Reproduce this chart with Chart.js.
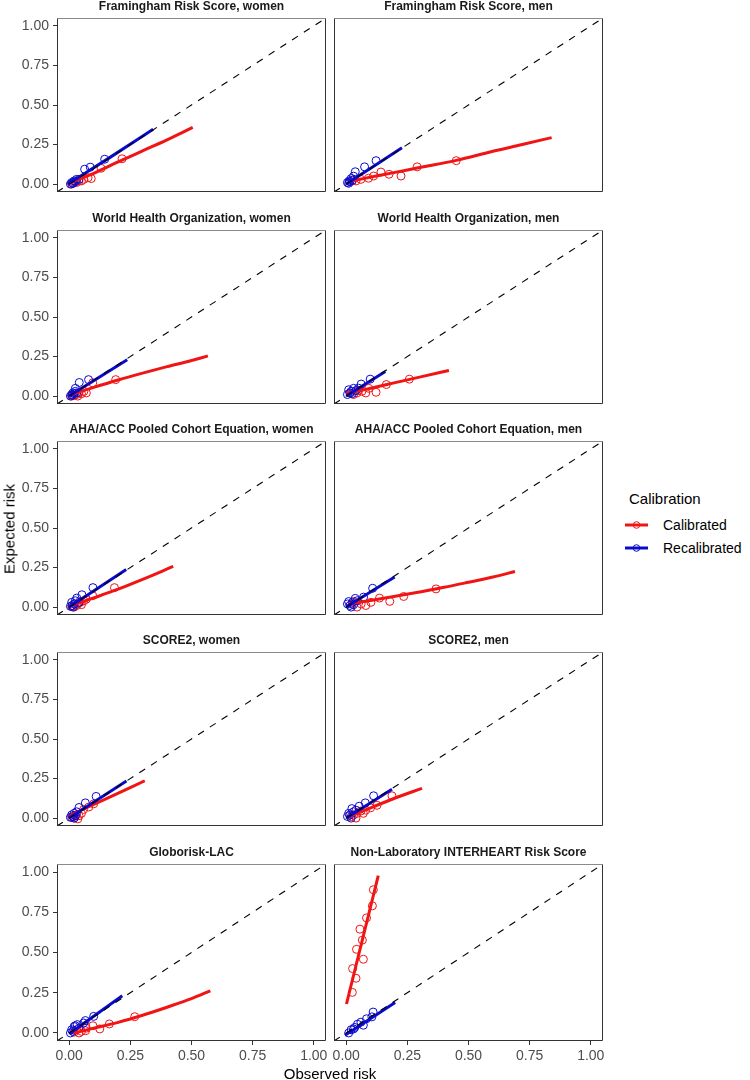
<!DOCTYPE html>
<html>
<head>
<meta charset="utf-8">
<script src="https://cdn.jsdelivr.net/npm/chart.js@4.4.1/dist/chart.umd.min.js"></script>
<style>
  body { margin: 0; background: #fff; width: 750px; height: 1080px; overflow: hidden; font-family: "Liberation Sans", Arial, sans-serif; }
  #wrap { position: relative; width: 750px; height: 1080px; }
  canvas { position: absolute; }
  .axis-title { position: absolute; font-size: 15px; color: #000; white-space: nowrap; }
  .leg { position: absolute; white-space: nowrap; color: #000; }
</style>
</head>
<body>
<div id="wrap"></div>
<script>
// facet titles, in reading order (row by row, left then right)
var panelTitles = [
  "Framingham Risk Score, women", "Framingham Risk Score, men",
  "World Health Organization, women", "World Health Organization, men",
  "AHA/ACC Pooled Cohort Equation, women", "AHA/ACC Pooled Cohort Equation, men",
  "SCORE2, women", "SCORE2, men",
  "Globorisk-LAC", "Non-Laboratory INTERHEART Risk Score"
];
var seriesNames = ["Calibrated", "Recalibrated"];
var tickVals = [0, 0.25, 0.5, 0.75, 1];
var identityLine = [[-0.05, -0.05], [1.05, 1.05]];

// [observed, expected] pairs
// Framingham women
var frsWCalPts = [[0.01,0.0],[0.02,0.01],[0.03,0.01],[0.04,0.02],[0.05,0.02],[0.06,0.03],[0.077,0.04],[0.09,0.035],[0.13,0.10],[0.216,0.16]];
var frsWCalFit = [[0.0,0.006],[0.1,0.068],[0.2,0.14],[0.3,0.21],[0.4,0.28],[0.505,0.358]];
var frsWRecPts = [[0.005,0.0],[0.01,0.01],[0.015,0.005],[0.02,0.02],[0.025,0.015],[0.03,0.03],[0.04,0.03],[0.063,0.094],[0.086,0.107],[0.145,0.157]];
var frsWRecFit = [[-0.005,0.0],[0.17,0.172],[0.343,0.346]];
// Framingham men
var frsMCalPts = [[0.025,0.02],[0.04,0.02],[0.06,0.03],[0.091,0.037],[0.112,0.051],[0.142,0.076],[0.175,0.062],[0.224,0.051],[0.29,0.109],[0.45,0.148]];
var frsMCalFit = [[0.02,0.02],[0.1,0.044],[0.2,0.074],[0.3,0.105],[0.45,0.15],[0.6,0.208],[0.72,0.25],[0.84,0.294]];
var frsMRecPts = [[0.005,0.01],[0.01,0.005],[0.012,0.02],[0.015,0.015],[0.02,0.035],[0.025,0.025],[0.03,0.05],[0.037,0.078],[0.075,0.109],[0.122,0.148]];
var frsMRecFit = [[0.0,0.0],[0.228,0.23]];
// WHO women
var whoWCalPts = [[0.01,0.0],[0.02,0.005],[0.03,0.01],[0.035,0.0],[0.04,0.02],[0.05,0.015],[0.06,0.03],[0.07,0.02],[0.096,0.084],[0.19,0.104]];
var whoWCalFit = [[0.0,0.005],[0.1,0.055],[0.2,0.102],[0.3,0.145],[0.4,0.186],[0.5,0.225],[0.567,0.254]];
var whoWRecPts = [[0.005,0.0],[0.01,0.01],[0.012,0.005],[0.015,0.02],[0.02,0.015],[0.025,0.03],[0.025,0.049],[0.041,0.086],[0.079,0.104],[0.03,0.02]];
var whoWRecFit = [[0.0,0.0],[0.237,0.23]];
// WHO men
var whoMCalPts = [[0.017,0.02],[0.03,0.01],[0.044,0.02],[0.064,0.03],[0.08,0.02],[0.092,0.049],[0.122,0.024],[0.164,0.073],[0.258,0.107],[0.05,0.035]];
var whoMCalFit = [[0.0,0.018],[0.1,0.05],[0.2,0.085],[0.3,0.12],[0.42,0.162]];
var whoMRecPts = [[0.005,0.01],[0.01,0.04],[0.015,0.02],[0.02,0.03],[0.025,0.015],[0.03,0.049],[0.04,0.035],[0.061,0.076],[0.098,0.107],[0.05,0.05]];
var whoMRecFit = [[0.0,0.0],[0.16,0.156]];
// AHA/ACC women
var ahaWCalPts = [[0.01,0.005],[0.02,0.0],[0.03,0.01],[0.035,0.02],[0.045,0.03],[0.05,0.015],[0.06,0.04],[0.096,0.072],[0.185,0.123],[0.07,0.05]];
var ahaWCalFit = [[0.0,0.005],[0.1,0.058],[0.2,0.113],[0.3,0.175],[0.425,0.257]];
var ahaWRecPts = [[0.005,0.005],[0.01,0.03],[0.012,0.01],[0.02,0.02],[0.025,0.04],[0.031,0.057],[0.04,0.03],[0.052,0.078],[0.097,0.123],[0.015,0.0]];
var ahaWRecFit = [[0.0,0.0],[0.233,0.238]];
// AHA/ACC men
var ahaMCalPts = [[0.025,0.02],[0.044,0.0],[0.061,0.02],[0.08,0.01],[0.101,0.03],[0.136,0.057],[0.178,0.036],[0.235,0.067],[0.367,0.115],[0.03,0.035]];
var ahaMCalFit = [[0.01,0.02],[0.1,0.042],[0.2,0.068],[0.3,0.096],[0.4,0.125],[0.5,0.157],[0.6,0.19],[0.69,0.225]];
var ahaMRecPts = [[0.005,0.02],[0.01,0.035],[0.015,0.01],[0.02,0.0],[0.025,0.03],[0.037,0.055],[0.045,0.04],[0.071,0.063],[0.108,0.119],[0.03,0.015]];
var ahaMRecFit = [[0.0,0.0],[0.198,0.19]];
// SCORE2 women
var sc2WCalPts = [[0.01,0.005],[0.02,0.0],[0.018,0.01],[0.03,0.02],[0.04,0.015],[0.05,0.03],[0.059,0.055],[0.08,0.07],[0.1,0.09],[0.035,-0.005]];
var sc2WCalFit = [[0.004,0.018],[0.15,0.122],[0.309,0.236]];
var sc2WRecPts = [[0.005,0.005],[0.01,0.02],[0.015,0.01],[0.02,0.03],[0.025,0.015],[0.03,0.04],[0.04,0.067],[0.066,0.096],[0.11,0.137],[0.02,0.0]];
var sc2WRecFit = [[0.0,0.0],[0.234,0.234]];
// SCORE2 men
var sc2MCalPts = [[0.02,0.01],[0.03,0.02],[0.044,0.03],[0.06,0.045],[0.07,0.03],[0.1,0.065],[0.126,0.081],[0.187,0.141],[0.04,0.0],[0.08,0.05]];
var sc2MCalFit = [[0.0,0.003],[0.1,0.065],[0.2,0.127],[0.31,0.188]];
var sc2MRecPts = [[0.005,0.01],[0.01,0.03],[0.015,0.02],[0.023,0.06],[0.03,0.04],[0.04,0.05],[0.053,0.075],[0.078,0.096],[0.112,0.141],[0.02,0.0]];
var sc2MRecFit = [[0.0,0.0],[0.187,0.182]];
// Globorisk-LAC
var gloCalPts = [[0.02,0.005],[0.04,0.0],[0.05,0.01],[0.067,0.014],[0.07,0.03],[0.097,0.045],[0.125,0.025],[0.164,0.056],[0.268,0.101],[0.03,0.02]];
var gloCalFit = [[0.02,0.0],[0.1,0.03],[0.2,0.066],[0.3,0.11],[0.4,0.16],[0.5,0.213],[0.577,0.262]];
var gloRecPts = [[0.005,0.0],[0.01,0.02],[0.015,0.01],[0.02,0.04],[0.033,0.052],[0.04,0.03],[0.059,0.062],[0.066,0.077],[0.1,0.103],[0.025,0.045]];
var gloRecFit = [[0.0,-0.005],[0.217,0.231]];
// Non-Laboratory INTERHEART
var ihCalPts = [[0.025,0.252],[0.04,0.34],[0.026,0.40],[0.07,0.458],[0.042,0.52],[0.066,0.577],[0.056,0.645],[0.083,0.715],[0.107,0.79],[0.111,0.89]];
var ihCalFit = [[0.001,0.18],[0.131,0.978]];
var ihRecPts = [[0.01,0.0],[0.02,0.02],[0.03,0.025],[0.035,0.034],[0.046,0.054],[0.06,0.067],[0.07,0.048],[0.083,0.088],[0.105,0.10],[0.11,0.13]];
var ihRecFit = [[-0.005,-0.015],[0.2,0.19]];

var panelSeries = [
  [frsWCalPts, frsWCalFit, frsWRecPts, frsWRecFit],
  [frsMCalPts, frsMCalFit, frsMRecPts, frsMRecFit],
  [whoWCalPts, whoWCalFit, whoWRecPts, whoWRecFit],
  [whoMCalPts, whoMCalFit, whoMRecPts, whoMRecFit],
  [ahaWCalPts, ahaWCalFit, ahaWRecPts, ahaWRecFit],
  [ahaMCalPts, ahaMCalFit, ahaMRecPts, ahaMRecFit],
  [sc2WCalPts, sc2WCalFit, sc2WRecPts, sc2WRecFit],
  [sc2MCalPts, sc2MCalFit, sc2MRecPts, sc2MRecFit],
  [gloCalPts, gloCalFit, gloRecPts, gloRecFit],
  [ihCalPts, ihCalFit, ihRecPts, ihRecFit]
];

var RED = "#f01414";
var BLUE = "#0a0acd";
var seriesColors = [RED, BLUE];

Chart.defaults.font.family = "'Liberation Sans', Arial, sans-serif";

// panel geometry (px)
var colLeft = [57, 334];
var rowTop = [18, 230, 441, 652, 864];
var panelW = 269, panelH = 177;
var titleH = 19;

function xy(pairs) {
  return pairs.map(function (p) { return { x: p[0], y: p[1] }; });
}

// panel frame like ggplot's panel.border
var panelBox = {
  id: 'panelBox',
  afterDraw: function (chart) {
    var a = chart.chartArea, ctx = chart.ctx;
    var l = Math.round(a.left) + 0.5, t = Math.round(a.top) + 0.5;
    var r = Math.round(a.right) - 0.5, b = Math.round(a.bottom) - 0.5;
    ctx.save();
    ctx.lineWidth = 1;
    ctx.strokeStyle = '#8a8a8a';
    ctx.beginPath(); ctx.moveTo(l, t); ctx.lineTo(r, t); ctx.stroke();
    ctx.strokeStyle = '#333333';
    ctx.beginPath(); ctx.moveTo(r, t); ctx.lineTo(r, b); ctx.lineTo(l, b); ctx.lineTo(l, t); ctx.stroke();
    ctx.restore();
  }
};

var wrap = document.getElementById('wrap');

panelTitles.forEach(function (title, i) {
  var col = i % 2, row = Math.floor(i / 2);
  var isLeft = col === 0, isBottom = row === rowTop.length - 1;
  var padL = isLeft ? 57 : 20;
  var padR = 6;
  var padB = isBottom ? 40 : 2;

  var cv = document.createElement('canvas');
  var w = padL + panelW + padR, h = titleH + panelH + padB;
  cv.width = w; cv.height = h;
  cv.style.width = w + 'px'; cv.style.height = h + 'px';
  cv.style.left = (colLeft[col] - padL) + 'px';
  cv.style.top = (rowTop[row] - titleH) + 'px';
  wrap.appendChild(cv);

  var s = panelSeries[i];
  var tickFont = { size: 14 };

  new Chart(cv, {
    type: 'scatter',
    data: {
      datasets: [
        { data: xy(identityLine), showLine: true, borderColor: '#000', borderWidth: 1.1,
          borderDash: [7, 7], pointRadius: 0, order: 0, clip: 0 },
        { data: xy(s[3]), showLine: true, borderColor: BLUE, borderWidth: 3,
          pointRadius: 0, tension: 0.35, cubicInterpolationMode: 'monotone', order: 1, clip: 0 },
        { data: xy(s[1]), showLine: true, borderColor: RED, borderWidth: 3,
          pointRadius: 0, tension: 0.35, cubicInterpolationMode: 'monotone', order: 2, clip: 0 },
        { data: xy(s[2]), showLine: false, pointRadius: 4, pointBorderWidth: 1,
          pointBorderColor: BLUE, pointBackgroundColor: 'rgba(0,0,0,0)', order: 3, clip: 0 },
        { data: xy(s[0]), showLine: false, pointRadius: 4, pointBorderWidth: 1,
          pointBorderColor: RED, pointBackgroundColor: 'rgba(0,0,0,0)', order: 4, clip: 0 }
      ]
    },
    options: {
      responsive: false,
      animation: false,
      events: [],
      layout: { padding: { top: 0, right: padR, bottom: 0, left: 0 } },
      plugins: {
        legend: { display: false },
        tooltip: { enabled: false },
        title: {
          display: true, text: title, fullSize: false, color: '#1a1a1a',
          font: { size: 12, weight: 'bold', lineHeight: '14px' },
          padding: { top: 1, bottom: 4 }
        }
      },
      scales: {
        x: {
          type: 'linear', min: -0.05, max: 1.05,
          afterBuildTicks: function (sc) { sc.ticks = tickVals.map(function (v) { return { value: v }; }); },
          afterFit: function (sc) { sc.height = padB; sc.paddingLeft = 0; sc.paddingRight = 0; },
          ticks: { display: isBottom, color: '#4d4d4d', font: tickFont, padding: 3,
                   maxRotation: 0, autoSkip: false,
                   callback: function (v) { return v.toFixed(2); } },
          grid: { display: isBottom, drawOnChartArea: false, drawTicks: true, tickLength: 4, color: '#333' },
          border: { display: false }
        },
        y: {
          type: 'linear', min: -0.05, max: 1.05,
          afterBuildTicks: function (sc) { sc.ticks = tickVals.map(function (v) { return { value: v }; }); },
          afterFit: function (sc) { sc.width = padL; sc.paddingTop = 0; sc.paddingBottom = 0; },
          ticks: { display: isLeft, color: '#4d4d4d', font: tickFont, padding: 4,
                   autoSkip: false,
                   callback: function (v) { return v.toFixed(2); } },
          grid: { display: isLeft, drawOnChartArea: false, drawTicks: true, tickLength: 4, color: '#333' },
          border: { display: false }
        }
      }
    },
    plugins: [panelBox]
  });
});

// axis titles
var yTitle = document.createElement('div');
yTitle.className = 'axis-title';
yTitle.textContent = 'Expected risk';
yTitle.style.left = '9px';
yTitle.style.top = '529px';
yTitle.style.transform = 'translate(-50%, -50%) rotate(-90deg)';
wrap.appendChild(yTitle);

var xTitle = document.createElement('div');
xTitle.className = 'axis-title';
xTitle.textContent = 'Observed risk';
xTitle.style.left = '330px';
xTitle.style.top = '1073px';
xTitle.style.transform = 'translate(-50%, -50%)';
wrap.appendChild(xTitle);

// legend
var legTitle = document.createElement('div');
legTitle.className = 'leg';
legTitle.style.left = '629px';
legTitle.style.top = '498px';
legTitle.style.fontSize = '15px';
legTitle.style.transform = 'translateY(-50%)';
legTitle.textContent = 'Calibration';
wrap.appendChild(legTitle);

seriesNames.forEach(function (name, k) {
  var cy = 525 + k * 23;
  var key = document.createElementNS('http://www.w3.org/2000/svg', 'svg');
  key.setAttribute('width', '24'); key.setAttribute('height', '14');
  key.style.position = 'absolute';
  key.style.left = '625px';
  key.style.top = (cy - 7) + 'px';
  key.innerHTML = '<line x1="0" y1="7" x2="23" y2="7" stroke="' + seriesColors[k] + '" stroke-width="3"/>' +
    '<circle cx="11.5" cy="7" r="3.3" fill="none" stroke="' + seriesColors[k] + '" stroke-width="1"/>';
  wrap.appendChild(key);

  var lab = document.createElement('div');
  lab.className = 'leg';
  lab.style.left = '663px';
  lab.style.top = cy + 'px';
  lab.style.fontSize = '14px';
  lab.style.transform = 'translateY(-50%)';
  lab.textContent = name;
  wrap.appendChild(lab);
});
</script>
</body>
</html>
